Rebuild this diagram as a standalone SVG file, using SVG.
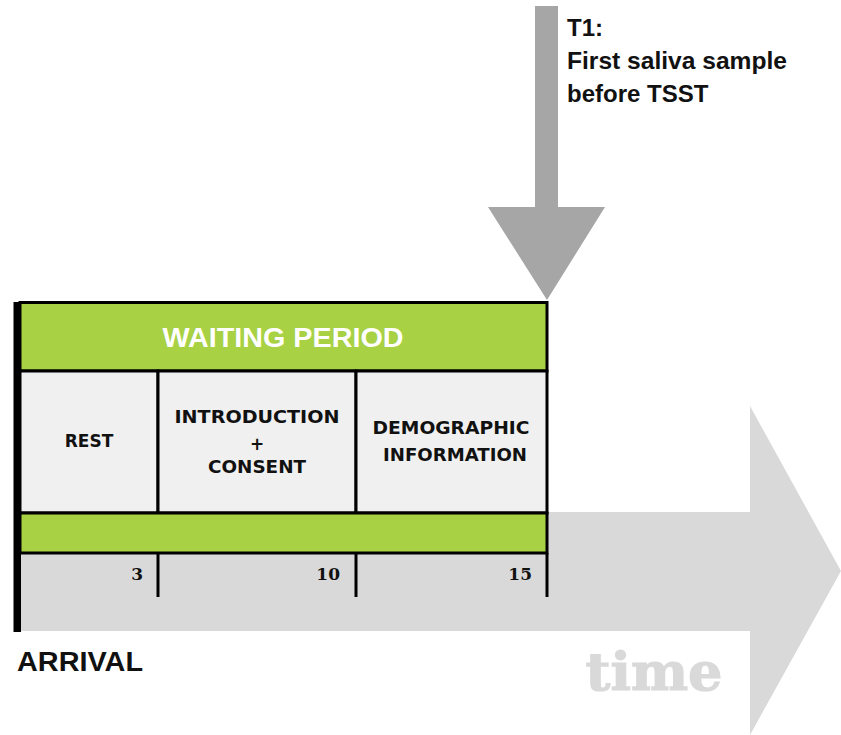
<svg xmlns="http://www.w3.org/2000/svg" width="841" height="735" viewBox="0 0 841 735">
<style>
.lbl{font-family:"DejaVu Sans","Liberation Sans",sans-serif;font-weight:bold;font-size:17px;fill:#111;text-anchor:middle}
.num{font-family:"DejaVu Serif","Liberation Serif",serif;font-weight:bold;font-size:17px;fill:#111;text-anchor:end}
.ln{stroke:#000;stroke-width:3}
.green{fill:#a8d144}
.cell{fill:#f0f0f0}
</style>
<rect width="841" height="735" fill="#fff"/>
<g id="time-arrow">
<polygon points="20,512 750,512 750,406 841,571 750,735 750,631 20,631" fill="#d9d9d9"/>
<text x="654" y="690" font-family="DejaVu Serif,Liberation Serif,serif" font-weight="900" font-size="52" fill="#d9d9d9" stroke="#d9d9d9" stroke-width="1.2" text-anchor="middle" textLength="137" lengthAdjust="spacingAndGlyphs">time</text>
</g>
<g id="t1-arrow">
<polygon points="535,6 558,6 558,207 605,207 547,300 488,207 535,207" fill="#a6a6a6"/>
<text font-family="Liberation Sans,Arial,sans-serif" font-weight="bold" font-size="24" fill="#111">
<tspan x="567" y="36">T1:</tspan>
<tspan x="567" y="69" textLength="220" lengthAdjust="spacingAndGlyphs">First saliva sample</tspan>
<tspan x="567" y="102">before TSST</tspan>
</text>
</g>
<g id="waiting-period">
<rect x="20" y="302.5" width="527" height="68.5" class="ln green"/>
<text x="283" y="347" font-family="Liberation Sans,Arial,sans-serif" font-weight="bold" font-size="27" fill="#fff" text-anchor="middle" textLength="241" lengthAdjust="spacingAndGlyphs">WAITING PERIOD</text>
</g>
<g id="rest">
<rect x="20" y="371" width="138" height="142" class="ln cell"/>
<text class="lbl" x="89" y="447">REST</text>
</g>
<g id="introduction">
<rect x="158" y="371" width="198" height="142" class="ln cell"/>
<text class="lbl" x="257" y="423" textLength="165" lengthAdjust="spacingAndGlyphs">INTRODUCTION</text>
<text class="lbl" x="257" y="450">+</text>
<text class="lbl" x="257" y="473" textLength="98" lengthAdjust="spacingAndGlyphs">CONSENT</text>
</g>
<g id="demographic">
<rect x="356" y="371" width="191" height="142" class="ln cell"/>
<text class="lbl" x="451" y="434" textLength="157" lengthAdjust="spacingAndGlyphs">DEMOGRAPHIC</text>
<text class="lbl" x="455" y="461" textLength="144" lengthAdjust="spacingAndGlyphs">INFORMATION</text>
</g>
<g id="green-bar">
<rect x="20" y="513" width="527" height="40" class="ln green"/>
</g>
<g id="ticks">
<line class="ln" x1="158" y1="553" x2="158" y2="597"/>
<line class="ln" x1="356" y1="553" x2="356" y2="597"/>
<line class="ln" x1="547" y1="553" x2="547" y2="597"/>
<text class="num" x="143" y="580">3</text>
<text class="num" x="340" y="580">10</text>
<text class="num" x="532" y="580">15</text>
</g>
<g id="arrival">
<rect x="13.5" y="302" width="7.5" height="330" fill="#000"/>
<text x="17" y="671" font-family="Liberation Sans,Arial,sans-serif" font-weight="bold" font-size="27" fill="#111" textLength="126" lengthAdjust="spacingAndGlyphs">ARRIVAL</text>
</g>
</svg>
